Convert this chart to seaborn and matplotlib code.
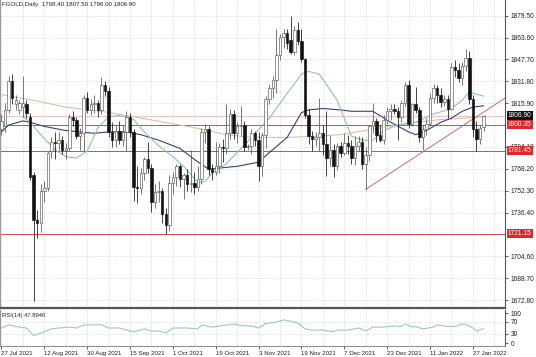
import matplotlib
matplotlib.use("Agg")
import matplotlib.pyplot as plt
import matplotlib.transforms as mtransforms
import numpy as np
import pandas as pd
import seaborn as sns

# ---------------- data ----------------
opens = [1797, 1799, 1811, 1832, 1815, 1811, 1813, 1815, 1806, 1764,
         1731, 1729, 1752, 1754, 1781, 1788, 1787, 1789, 1782, 1783,
         1806, 1804, 1792, 1794, 1820, 1811, 1815, 1816, 1811, 1829,
         1825, 1795, 1789, 1796, 1789, 1795, 1806, 1795, 1755, 1754,
         1765, 1775, 1769, 1744, 1751, 1752, 1735, 1727, 1758, 1762,
         1770, 1761, 1764, 1757, 1758, 1755, 1761, 1795, 1797, 1768,
         1766, 1770, 1784, 1783, 1794, 1808, 1794, 1799, 1800, 1784,
         1785, 1794, 1789, 1770, 1793, 1819, 1827, 1833, 1851, 1864,
         1867, 1862, 1853, 1869, 1861, 1848, 1807, 1792, 1790, 1791,
         1794, 1786, 1776, 1782, 1770, 1785, 1780, 1787, 1785, 1776,
         1785, 1788, 1772, 1778, 1799, 1803, 1793, 1789, 1804, 1810,
         1812, 1810, 1806, 1816, 1829, 1801, 1815, 1811, 1791, 1797,
         1801, 1820, 1827, 1822, 1817, 1819, 1812, 1842, 1840, 1834,
         1843, 1849, 1819, 1797, 1790, 1798.4]
highs = [1808, 1816, 1836, 1837, 1822, 1818, 1836, 1818, 1809, 1766,
         1738, 1757, 1759, 1781, 1791, 1795, 1795, 1792, 1787, 1808,
         1810, 1806, 1798, 1822, 1824, 1819, 1822, 1818, 1835, 1832,
         1828, 1802, 1800, 1803, 1800, 1810, 1809, 1797, 1770, 1769,
         1777, 1788, 1772, 1757, 1759, 1754, 1740, 1764, 1766, 1772,
         1772, 1765, 1768, 1782, 1766, 1770, 1798, 1801, 1799, 1772,
         1788, 1787, 1790, 1815, 1812, 1811, 1802, 1814, 1803, 1786,
         1797, 1796, 1795, 1795, 1821, 1830, 1836, 1870, 1866, 1870,
         1870, 1879, 1872, 1875, 1870, 1849, 1812, 1796, 1795, 1820,
         1800, 1810, 1793, 1786, 1787, 1788, 1794, 1793, 1789, 1792,
         1792, 1791, 1784, 1800, 1816, 1805, 1800, 1807, 1813, 1815,
         1815, 1813, 1818, 1831, 1833, 1816, 1828, 1813, 1800, 1805,
         1823, 1830, 1829, 1827, 1822, 1822, 1845, 1847, 1845, 1846,
         1855, 1854, 1822, 1803, 1800, 1807.5]
lows = [1793, 1795, 1809, 1815, 1811, 1808, 1806, 1805, 1760, 1672,
        1718, 1722, 1744, 1752, 1776, 1775, 1782, 1779, 1775, 1781,
        1799, 1790, 1782, 1781, 1809, 1807, 1809, 1806, 1808, 1821,
        1791, 1784, 1784, 1786, 1785, 1781, 1791, 1745, 1743, 1750,
        1760, 1765, 1737, 1740, 1744, 1729, 1721, 1723, 1750, 1756,
        1755, 1746, 1752, 1751, 1750, 1752, 1757, 1787, 1764, 1760,
        1764, 1765, 1773, 1779, 1790, 1790, 1787, 1792, 1781, 1782,
        1779, 1785, 1759, 1763, 1783, 1815, 1820, 1823, 1847, 1856,
        1855, 1852, 1851, 1858, 1846, 1805, 1786, 1781, 1785, 1781,
        1778, 1763, 1770, 1762, 1767, 1777, 1778, 1779, 1772, 1771,
        1781, 1768, 1753, 1774, 1794, 1788, 1788, 1786, 1801, 1804,
        1808, 1789, 1802, 1813, 1798, 1799, 1809, 1788, 1782, 1793,
        1799, 1816, 1816, 1813, 1814, 1805, 1811, 1835, 1831, 1829,
        1839, 1815, 1791, 1781, 1786, 1796.0]
closes = [1803, 1811, 1832, 1820, 1818, 1816, 1816, 1809, 1762, 1731,
          1729, 1752, 1754, 1780, 1788, 1787, 1789, 1782, 1783, 1806,
          1804, 1792, 1794, 1820, 1811, 1815, 1816, 1811, 1829, 1825,
          1795, 1789, 1796, 1789, 1795, 1806, 1795, 1755, 1754, 1765,
          1775, 1769, 1744, 1751, 1752, 1735, 1727, 1758, 1762, 1770,
          1761, 1764, 1757, 1758, 1755, 1761, 1795, 1797, 1768, 1766,
          1770, 1784, 1783, 1794, 1808, 1794, 1799, 1800, 1784, 1785,
          1794, 1789, 1770, 1793, 1819, 1827, 1833, 1851, 1864, 1867,
          1860, 1853, 1869, 1861, 1848, 1807, 1792, 1790, 1791, 1794,
          1786, 1776, 1782, 1770, 1785, 1780, 1787, 1785, 1776, 1785,
          1788, 1772, 1778, 1799, 1803, 1793, 1789, 1804, 1810, 1812,
          1810, 1806, 1816, 1829, 1801, 1815, 1811, 1791, 1797, 1801,
          1820, 1827, 1822, 1817, 1819, 1812, 1842, 1840, 1834, 1843,
          1849, 1819, 1797, 1790, 1798, 1806.9]

date_labels = ["27 Jul 2021", "12 Aug 2021", "30 Aug 2021", "15 Sep 2021",
               "1 Oct 2021", "19 Oct 2021", "3 Nov 2021", "19 Nov 2021",
               "7 Dec 2021", "23 Dec 2021", "11 Jan 2022", "27 Jan 2022"]
date_bars = [0, 12, 24, 36, 48, 60, 72, 84, 96, 108, 120, 132]

fast_ma_bars = [6, 8, 12, 15, 18, 21, 24, 27, 30, 33, 37, 40, 44, 48, 51, 55,
                57, 59, 63, 66, 70, 75, 80, 84, 86, 89, 94, 98, 101, 104, 107,
                111, 116, 121, 126, 129, 131, 135]
fast_ma_vals = [1806, 1802, 1790, 1782, 1777, 1776, 1781, 1798, 1806, 1807,
                1804, 1795, 1785, 1777, 1770, 1758, 1759, 1765, 1772, 1780,
                1791, 1805, 1823, 1837, 1839, 1837, 1818, 1792, 1789, 1789,
                1796, 1800, 1802, 1808, 1812, 1818, 1824, 1821]

mid_ma_bars = [0, 2, 6, 8, 12, 18, 26, 30, 35, 39, 44, 47, 50, 54, 58, 66, 72,
               75, 80, 84, 86, 90, 95, 98, 104, 109, 114, 116, 119, 123, 126,
               129, 132, 135]
mid_ma_vals = [1795, 1800, 1803, 1802, 1799, 1796, 1794, 1795, 1795, 1793,
               1789, 1786, 1783, 1775, 1768, 1770, 1773, 1780, 1791, 1809,
               1811, 1812, 1811, 1810, 1810, 1802, 1795, 1793, 1796, 1802,
               1805, 1810, 1813, 1814]

slow_ma_bars = [0, 9, 18, 28, 37, 50, 56, 63, 70, 80, 89, 95, 104, 113, 123,
                130, 135]
slow_ma_vals = [1822, 1818, 1813, 1810, 1806, 1800, 1797, 1793, 1791, 1791,
                1792, 1793, 1797, 1801, 1804, 1805, 1806]

rsi_bars = [0, 2, 5, 7, 9, 11, 14, 16, 19, 21, 23, 28, 30, 33, 37, 40, 42, 44,
            46, 48, 52, 55, 56, 59, 63, 65, 68, 70, 72, 74, 77, 79, 80, 82, 83,
            85, 87, 90, 93, 94, 97, 100, 102, 104, 107, 110, 112, 113, 115,
            116, 118, 121, 122, 125, 127, 129, 130, 132, 133, 135]
rsi_vals = [50, 60, 53, 50, 25, 33, 47, 50, 53, 50, 60, 61, 50, 50, 37, 47, 40,
            40, 33, 50, 50, 47, 60, 53, 60, 63, 57, 57, 50, 65, 70, 77, 75, 70,
            67, 47, 43, 43, 37, 43, 43, 50, 40, 53, 53, 57, 55, 63, 53, 55, 47,
            53, 60, 55, 55, 63, 63, 50, 40, 47.894]

price_ticks = [1879.50, 1863.60, 1847.70, 1831.80, 1815.90, 1784.10, 1768.20,
               1752.30, 1736.40, 1704.60, 1688.70, 1672.80]
grid_prices = price_ticks + [1800.00, 1720.50]
level_prices = [1800.35, 1781.45, 1721.15]
last_price = 1806.90
trend_bars = [102, 141]
trend_prices = [1753.3, 1819.6]
rsi_ticks = [100, 70, 30, 0]

title_text = "FGOLD,Daily  1798.40 1807.50 1796.00 1806.90"
rsi_title = "RSI(14) 47.8940"

# ---------------- style ----------------
sns.set_style("white")
plt.rcParams["font.family"] = ["Liberation Sans", "DejaVu Sans"]
plt.rcParams["lines.solid_joinstyle"] = "round"

W, H = 536, 357
fig = plt.figure(figsize=(W / 100, H / 100), dpi=100)
fig.patch.set_facecolor("white")

main_top, main_bot = 0, 308
rsi_top, rsi_bot = 310, 346
right_px = 505

ax = fig.add_axes([0, 1 - main_bot / H, right_px / W, (main_bot - main_top) / H])
axr = fig.add_axes([0, 1 - rsi_bot / H, right_px / W, (rsi_bot - rsi_top) / H])

xmin, xmax = -0.42, 141.0
ax.set_xlim(xmin, xmax)
axr.set_xlim(xmin, xmax)
ax.set_ylim(1667.0, 1890.9)
axr.set_ylim(-10, 110)

grid_col = "#c9c9c9"
vgrid = np.arange(0, 142, 6)
for a in (ax, axr):
    for g in vgrid:
        a.axvline(g, color=grid_col, lw=0.5, ls=(0, (1, 1.5)), zorder=0)
for p in grid_prices:
    ax.axhline(p, color=grid_col, lw=0.5, ls=(0, (1, 1.5)), zorder=0)
for r in (70, 30):
    axr.axhline(r, color=grid_col, lw=0.5, ls=(0, (1, 1.5)), zorder=0)

# level lines
ax.axhline(last_price, color="#efc4c4", lw=0.7, zorder=1)
for p in level_prices:
    ax.axhline(p, color="#d64a4a", lw=0.7, zorder=1)

# moving averages
sns.lineplot(x=slow_ma_bars, y=slow_ma_vals, ax=ax, color="#d9c3a3", lw=0.8,
             estimator=None, zorder=2)
sns.lineplot(x=mid_ma_bars, y=mid_ma_vals, ax=ax, color="#3b3f7c", lw=0.8,
             estimator=None, zorder=2)
sns.lineplot(x=fast_ma_bars, y=fast_ma_vals, ax=ax, color="#8fc2b6", lw=0.8,
             estimator=None, zorder=2)

# trend line
ax.plot(trend_bars, trend_prices, color="#c86a6a", lw=0.7, zorder=2)

# candles
df = pd.DataFrame({"o": opens, "h": highs, "l": lows, "c": closes})
df["bar"] = np.arange(len(df))
bull = df[df.c >= df.o]
bear = df[df.c < df.o]
ax.vlines(bull.bar, bull.l, bull.h, color="#555555", lw=0.55, zorder=3)
ax.vlines(bear.bar, bear.l, bear.h, color="#111111", lw=0.55, zorder=3)
ax.bar(bull.bar, np.maximum(bull.c - bull.o, 0.6), bottom=bull.o, width=0.7,
       color="white", edgecolor="#555555", linewidth=0.45, zorder=4)
ax.bar(bear.bar, np.maximum(bear.o - bear.c, 0.6), bottom=bear.c, width=0.7,
       color="#111111", edgecolor="#111111", linewidth=0.45, zorder=4)

# RSI
sns.lineplot(x=rsi_bars, y=rsi_vals, ax=axr, color="#9cc4d6", lw=0.8,
             estimator=None)

# spines
for a in (ax, axr):
    for s in a.spines.values():
        s.set_visible(False)
    a.spines["right"].set_visible(True)
    a.spines["right"].set_color("#555555")
    a.spines["right"].set_linewidth(0.8)
    a.set_xlabel("")
    a.set_ylabel("")
ax.spines["bottom"].set_visible(True)
ax.spines["bottom"].set_color("#555555")
ax.spines["bottom"].set_linewidth(1.6)
ax.spines["left"].set_visible(True)
ax.spines["left"].set_color("#999999")
ax.spines["left"].set_linewidth(0.8)
axr.spines["left"].set_visible(True)
axr.spines["left"].set_color("#999999")
axr.spines["left"].set_linewidth(0.8)
axr.spines["bottom"].set_visible(True)
axr.spines["bottom"].set_color("#777777")
axr.spines["bottom"].set_linewidth(0.6)

# right axis ticks
fs_price = 4.8
ax.yaxis.tick_right()
ax.set_yticks(price_ticks)
ax.set_yticklabels([f"{p:.2f}" for p in price_ticks], fontsize=fs_price,
                   color="#222222")
ax.tick_params(axis="y", right=True, length=2, width=0.5, pad=2,
               colors="#222222")
ax.set_xticks([])

axr.yaxis.tick_right()
axr.set_yticks(rsi_ticks)
axr.set_yticklabels([str(r) for r in rsi_ticks], fontsize=fs_price,
                    color="#222222")
axr.tick_params(axis="y", right=True, length=2, width=0.5, pad=2,
                colors="#222222")

axr.set_xticks(date_bars)
axr.set_xticklabels(date_labels, fontsize=4.4, color="#222222", ha="left")
axr.tick_params(axis="x", bottom=True, length=2, width=0.5, pad=1.5,
                colors="#222222")

# price tags
trans = mtransforms.blended_transform_factory(ax.transAxes, ax.transData)
tags = [(last_price, "#111111"), (level_prices[0], "#e0282c"),
        (level_prices[1], "#e0282c"), (level_prices[2], "#e0282c")]
for p, col in tags:
    ax.text(1.006, p, f"{p:.2f}", transform=trans, fontsize=fs_price,
            color="white", va="center", ha="left", clip_on=False, zorder=10,
            bbox=dict(facecolor=col, edgecolor="none", pad=0.9))

# titles
ax.text(0.004, 0.992, title_text, transform=ax.transAxes, fontsize=4.4,
        color="#222222", va="top", ha="left")
axr.text(0.004, 0.93, rsi_title, transform=axr.transAxes, fontsize=4.2,
         color="#222222", va="top", ha="left")

fig.savefig("out.png", dpi=100, facecolor="white")
